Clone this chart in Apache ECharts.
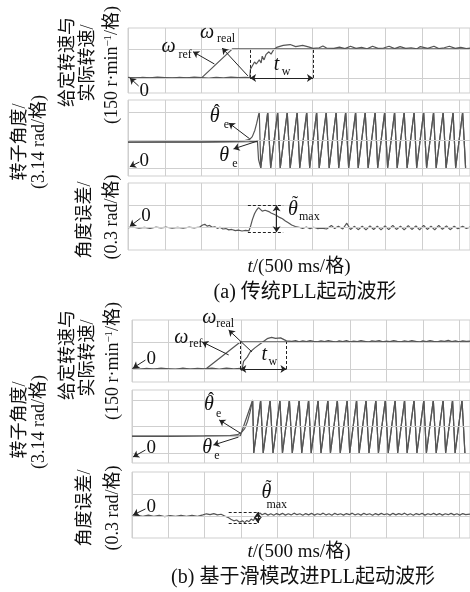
<!DOCTYPE html>
<html>
<head>
<meta charset="utf-8">
<script src="https://cdn.jsdelivr.net/npm/echarts@6/dist/echarts.min.js"></script>
<style>html,body{margin:0;background:#fff}#main{width:470px;height:592px}</style>
</head>
<body>
<div id="main"></div>
<script>
// x in scope divisions, y in divisions of each trace
// (a) traditional PLL
var spdRefA = [[0,0],[2.0,0],[2.84,1],[9.3,1]];
var spdRealA = [[0,0.02],[0.2,-0.01],[0.4,0.02],[0.6,0],[0.8,0.03],[1.0,0.01],[1.2,-0.01],[1.4,0.02],[1.6,0],[1.8,0.03],
  [2.0,0.01],[2.2,-0.01],[2.4,0.02],[2.6,0],[2.8,0.03],[3.0,0.01],[3.2,0.02],[3.31,0.01],[3.33,0.3],[3.36,0.34],[3.44,0.55],
  [3.49,0.48],[3.57,0.62],[3.62,0.52],[3.65,0.75],[3.70,0.62],[3.75,0.80],[3.83,0.90],[3.89,0.82],[3.96,0.97],[4.04,1.05],
  [4.22,1.12],[4.41,1.15],[4.56,1.08],[4.75,1.12],[4.93,1.06],[5.03,1.02],[5.2,1.04],[5.3,1.1],[5.4,1.03],[5.6,1.02],
  [5.75,1.06],[5.9,1.01],[6.05,1.09],[6.2,1.02],[6.35,1.05],[6.5,1.0],[6.65,1.09],[6.8,1.02],[6.95,1.03],[7.1,1.09],
  [7.25,1.01],[7.4,1.08],[7.55,1.02],[7.7,1.04],[7.85,1.0],[7.95,1.08],[8.15,1.02],[8.32,1.09],[8.45,1.01],[8.6,1.04],
  [8.74,1.09],[8.9,1.02],[9.05,1.05],[9.2,1.01],[9.3,1.03]];
var thetaHatPreA = [[0,0.92],[1.0,0.93],[2.0,0.93],[2.8,0.95],[3.15,0.97],[3.31,1.02],[3.38,1.12],[3.45,1.35],[3.50,1.6],[3.55,1.9],[3.57,2.0]];
var thetaPreA = [[0,0.92],[1.0,0.92],[2.0,0.92],[2.8,0.93],[3.3,0.94],[3.52,0.95],[3.55,0.3]];
var sawTroughsA = [3.61,3.88,4.14,4.41,4.67,4.94,5.20,5.47,5.73,6.00,6.26,6.53,6.79,7.06,7.32,7.59,7.85,8.12,8.38,8.65,8.91,9.18];
var sawPeaksA = [3.80,4.07,4.33,4.60,4.86,5.13,5.39,5.66,5.92,6.19,6.45,6.72,6.98,7.25,7.51,7.78,8.04,8.31,8.57,8.84,9.10];
var errA = [[0,0],[0.15,0.02],[0.3,-0.02],[0.45,0.01],[0.6,-0.03],[0.75,0.02],[0.9,-0.01],[1.05,0.02],[1.2,-0.02],[1.35,0.01],
  [1.5,-0.02],[1.65,0.02],[1.8,-0.01],[1.95,0.03],[2.03,0.12],[2.09,0.15],[2.15,0.07],[2.22,0.1],[2.29,0.02],[2.36,0.04],
  [2.43,-0.03],[2.5,0.02],[2.58,-0.06],[2.66,-0.04],[2.74,-0.1],[2.82,-0.08],[2.92,-0.13],[3.0,-0.11],[3.1,-0.15],[3.2,-0.12],
  [3.29,-0.14],[3.33,0.05],[3.38,0.35],[3.44,0.62],[3.50,0.8],[3.55,0.9],[3.60,0.82],[3.65,0.74],[3.69,0.7],[3.73,0.78],
  [3.78,0.8],[3.83,0.72],[3.89,0.66],[3.94,0.64],[4.0,0.58],[4.06,0.52],[4.12,0.46],[4.2,0.4],[4.28,0.3],[4.36,0.22],
  [4.45,0.12],[4.55,0.05],[4.65,0.02],[4.75,-0.04],[4.85,0.03],[4.95,-0.05],[5.05,0.02],[5.15,-0.04],[5.27,-0.02],[5.4,-0.06],
  [5.53,0.1],[5.62,-0.04],[5.72,0.06],[5.84,-0.06],[5.95,0.2],[6.05,-0.08],[6.16,0.06],[6.26,-0.09],[6.37,0.07],[6.47,-0.1],
  [6.58,0.08],[6.68,-0.08],[6.78,0.07],[6.88,-0.1],[6.99,0.08],[7.09,-0.09],[7.2,0.1],[7.3,-0.08],[7.41,0.07],[7.51,-0.1],
  [7.62,0.09],[7.72,-0.08],[7.83,0.08],[7.93,-0.1],[8.04,0.1],[8.14,-0.08],[8.24,0.07],[8.34,-0.1],[8.45,0.1],[8.55,-0.07],
  [8.66,0.08],[8.76,-0.09],[8.87,0.06],[8.97,-0.05],[9.1,0.06],[9.2,-0.04],[9.3,0.03]];

// (b) sliding-mode improved PLL
var spdRefB = [[0,0],[2.03,0],[2.98,1],[9.3,1]];
var spdRealB = [[0,0.02],[0.2,-0.01],[0.4,0.02],[0.6,0],[0.8,0.03],[1.0,0.01],[1.2,-0.01],[1.4,0.03],[1.6,0],[1.8,0.02],
  [2.0,0.01],[2.2,0.03],[2.4,0],[2.6,0.03],[2.8,0.01],[2.98,0.02],[3.02,-0.06],[3.07,0.28],[3.17,0.44],[3.25,0.63],
  [3.38,0.78],[3.56,0.96],[3.72,1.12],[3.84,1.17],[3.95,1.13],[4.09,1.15],[4.25,1.04],[4.4,1.02],[4.5,1.05],[4.6,1.0],
  [4.7,1.04],[4.8,1.01],[4.9,1.05],[5.0,1.02],[5.1,1.0],[5.2,1.04],[5.3,1.01],[5.4,1.05],[5.5,1.02],[5.6,0.99],[5.7,1.04],
  [5.8,1.01],[5.9,1.05],[6.0,1.0],[6.1,1.03],[6.2,1.01],[6.3,1.05],[6.4,1.02],[6.5,0.99],[6.6,1.04],[6.7,1.02],[6.8,1.05],
  [6.9,1.0],[7.0,1.03],[7.1,1.01],[7.2,1.05],[7.3,1.02],[7.4,1.0],[7.5,1.04],[7.6,1.01],[7.7,1.05],[7.8,1.02],[7.9,0.99],
  [8.0,1.04],[8.1,1.01],[8.2,1.05],[8.3,1.02],[8.4,1.0],[8.5,1.04],[8.6,1.02],[8.7,1.06],[8.8,1.01],[8.9,1.04],[9.0,1.0],
  [9.1,1.04],[9.2,1.02],[9.3,1.03]];
var thetaHatPreB = [[0,0.64],[1,0.64],[2,0.65],[2.7,0.66],[2.9,0.69],[3.0,0.76],[3.1,0.92],[3.18,1.2],[3.24,1.5],[3.28,1.75],[3.32,2.0]];
var thetaPreB = [[0,0.63],[1,0.63],[2,0.64],[2.98,0.65],[3.32,2.0]];
var sawTroughsB = [3.35,3.61,3.88,4.14,4.41,4.67,4.93,5.20,5.46,5.73,5.99,6.25,6.52,6.78,7.05,7.31,7.57,7.84,8.10,8.37,8.63,8.89,9.16];
var sawPeaksB = [3.54,3.80,4.07,4.33,4.60,4.86,5.12,5.39,5.65,5.92,6.18,6.44,6.71,6.97,7.24,7.50,7.76,8.03,8.29,8.56,8.82,9.08];
var errB = [[0,0],[0.15,0.03],[0.3,-0.02],[0.45,0.04],[0.6,-0.02],[0.75,0.03],[0.9,-0.03],[1.05,0.02],[1.2,-0.02],[1.35,0.03],
  [1.5,-0.01],[1.65,0.03],[1.8,-0.02],[1.95,0.05],[2.05,0.1],[2.15,0.06],[2.25,0.11],[2.35,0.05],[2.45,0.08],[2.55,0.0],
  [2.64,-0.06],[2.72,-0.15],[2.8,-0.22],[2.88,-0.18],[2.96,-0.28],[3.04,-0.22],[3.1,-0.3],[3.16,-0.2],[3.22,-0.26],[3.28,-0.14],
  [3.34,-0.2],[3.4,-0.05],[3.46,0.05],[3.52,0.14],[3.58,0.06],[3.66,0.12],[3.74,0.04],[3.82,0.1],[3.9,0.03],[3.98,0.11],
  [4.06,0.05],[4.14,0.12],[4.22,0.04],[4.3,0.1],[4.38,0.05],[4.46,0.13],[4.54,0.06],[4.62,0.1],[4.7,0.03],[4.78,0.11],
  [4.86,0.05],[4.94,0.12],[5.02,0.04],[5.1,0.1],[5.18,0.06],[5.26,0.13],[5.34,0.05],[5.42,0.1],[5.5,0.03],[5.58,0.12],
  [5.66,0.06],[5.74,0.1],[5.82,0.04],[5.9,0.11],[5.98,0.06],[6.06,0.13],[6.14,0.05],[6.22,0.1],[6.3,0.04],[6.38,0.12],
  [6.46,0.06],[6.54,0.1],[6.62,0.03],[6.7,0.11],[6.78,0.05],[6.86,0.12],[6.94,0.06],[7.02,0.1],[7.1,0.04],[7.18,0.12],
  [7.26,0.05],[7.34,0.11],[7.42,0.06],[7.5,0.13],[7.58,0.05],[7.66,0.1],[7.74,0.03],[7.82,0.11],[7.9,0.06],[7.98,0.12],
  [8.06,0.04],[8.14,0.1],[8.22,0.06],[8.3,0.12],[8.38,0.05],[8.46,0.11],[8.54,0.04],[8.62,0.1],[8.7,0.06],[8.78,0.12],
  [8.86,0.05],[8.94,0.1],[9.02,0.04],[9.1,0.11],[9.18,0.06],[9.3,0.09]];

var sawTop = 2.0, sawBottom = 0;

// tw / max-error marker values (divisions)
var twA = [3.32, 5.03], twB = [2.98, 4.25];
var maxErrA = {x: [3.26, 4.22], lo: -0.2, hi: 1.0, at: 4.04};
var maxErrB = {x: [2.66, 3.46], lo: -0.32, hi: 0.18, at: 3.46};

var serif = '"Liberation Serif","Noto Sans CJK SC",serif';
var gridColor = '#cfcfcf';
var traceColor = '#555';

// scope screens: pixel layout of the six sub-plots
var layout = [
  {left: 128, top: 28,  width: 357, height: 65, yMin: -0.52, yMax: 1.72, hl: [0, 1]},
  {left: 128, top: 100, width: 357, height: 76, yMin: -0.29, yMax: 2.43, hl: [0, 1, 2]},
  {left: 128, top: 183, width: 357, height: 67, yMin: -1,    yMax: 2,    hl: [0, 1]},
  {left: 132, top: 320, width: 352, height: 62, yMin: -0.48, yMax: 1.81, hl: [0, 1]},
  {left: 132, top: 390, width: 352, height: 73, yMin: -0.38, yMax: 2.38, hl: [0, 1, 2]},
  {left: 132, top: 472, width: 352, height: 66, yMin: -1,    yMax: 2,    hl: [0, 1]}
];

function saw(troughs, peaks) {
  var out = [];
  for (var i = 0; i < troughs.length; i++) {
    out.push([troughs[i], sawBottom]);
    if (i < peaks.length) out.push([peaks[i], sawTop]);
  }
  return out;
}

function arrow(p, q, both) {
  return [{coord: p, symbol: both ? 'arrow' : 'none'}, {coord: q, symbol: 'arrow'}];
}
function dashed(p, q) {
  return [{coord: p, symbol: 'none', lineStyle: {type: [3, 2], width: 1}}, {coord: q, symbol: 'none'}];
}

var marks = [
  [arrow([2.35,0.48],[1.77,0.90]), arrow([3.26,0.07],[2.56,1.03]), arrow([0.29,-0.28],[0.05,0]),
   dashed([twA[0],0],[twA[0],1]), dashed([twA[1],0],[twA[1],1]), arrow([twA[0],0],[twA[1],0], true)],
  [arrow([3.31,1.04],[2.74,1.61]), arrow([3.52,0.96],[2.87,0.68]), arrow([0.31,0.21],[0.05,0.04])],
  [dashed([maxErrA.x[0],maxErrA.hi],[maxErrA.x[1],maxErrA.hi]), dashed([maxErrA.x[0],maxErrA.lo],[maxErrA.x[1],maxErrA.lo]),
   arrow([maxErrA.at,maxErrA.lo],[maxErrA.at,maxErrA.hi], true), arrow([0.34,0.42],[0.05,0.06])],
  [arrow([2.66,0.52],[1.93,1.0]), arrow([3.30,0.63],[2.66,1.44]), arrow([0.37,0.33],[0.03,0.04]),
   dashed([twB[0],0],[twB[0],1]), dashed([twB[1],0],[twB[1],1]), arrow([twB[0],0],[twB[1],0], true)],
  [arrow([2.98,0.75],[2.40,1.25]), arrow([2.93,0.6],[2.24,0.3]), arrow([0.37,0.11],[0.03,-0.15])],
  [dashed([maxErrB.x[0],maxErrB.hi],[maxErrB.x[1],maxErrB.hi]), dashed([maxErrB.x[0],maxErrB.lo],[maxErrB.x[1],maxErrB.lo]),
   arrow([maxErrB.at,maxErrB.lo],[maxErrB.at,maxErrB.hi], true), arrow([0.37,0.32],[0.03,0.05])]
];

var traces = [
  [spdRefA, spdRealA],
  [thetaHatPreA.concat(saw(sawTroughsA, sawPeaksA)), thetaPreA.concat(saw(sawTroughsA, sawPeaksA))],
  [errA],
  [spdRefB, spdRealB],
  [thetaHatPreB.concat(saw(sawTroughsB, sawPeaksB)), thetaPreB.concat(saw(sawTroughsB, sawPeaksB))],
  [errB]
];

var chart = echarts.init(document.getElementById('main'));

var series = [];
layout.forEach(function (g, i) {
  series.push({
    type: 'line', xAxisIndex: i, yAxisIndex: i, data: [[0, 0]], showSymbol: false, silent: true, z: 1,
    lineStyle: {opacity: 0},
    markLine: {silent: true, animation: false, symbol: 'none', label: {show: false},
      lineStyle: {color: gridColor, width: 1, type: 'solid'},
      data: g.hl.map(function (v) { return {yAxis: v}; })}
  });
  traces[i].forEach(function (d) {
    series.push({type: 'line', xAxisIndex: i, yAxisIndex: i, data: d, showSymbol: false, z: 3,
      lineStyle: {color: traceColor, width: 1.2}});
  });
  series.push({
    type: 'line', xAxisIndex: i, yAxisIndex: i, data: [[0, 0]], showSymbol: false, silent: true, z: 5,
    lineStyle: {opacity: 0},
    markLine: {silent: true, animation: false, symbolSize: 6, label: {show: false},
      lineStyle: {color: '#222', width: 1, type: 'solid'}, data: marks[i]}
  });
});

chart.setOption({
  animation: false,
  grid: layout.map(function (g) {
    return {left: g.left, top: g.top, width: g.width, height: g.height, show: true,
      borderColor: gridColor, borderWidth: 1, backgroundColor: 'transparent'};
  }),
  xAxis: layout.map(function (g, i) {
    return {type: 'value', gridIndex: i, min: 0, max: 9.3, interval: 1,
      axisLine: {show: false}, axisTick: {show: false}, axisLabel: {show: false},
      splitLine: {show: true, lineStyle: {color: gridColor, width: 1}}};
  }),
  yAxis: layout.map(function (g, i) {
    return {type: 'value', gridIndex: i, min: g.yMin, max: g.yMax,
      axisLine: {show: false}, axisTick: {show: false}, axisLabel: {show: false}, splitLine: {show: false}};
  }),
  series: series
});

// ---- text ----
var graphic = [];
function txt(x, y, text, size, opts) {
  opts = opts || {};
  var st = {text: text, fontFamily: serif, fontSize: size, fontStyle: opts.italic ? 'italic' : 'normal',
    fill: '#111', align: opts.align || 'left', verticalAlign: 'middle',
    textAlign: opts.align || 'left', textVerticalAlign: 'middle'};
  if (opts.rich) st.rich = opts.rich;
  graphic.push({type: 'text', x: x, y: y, rotation: opts.rot || 0, silent: true, z: 10, style: st});
}

// symbol labels: [grid, x, y, main, sub, dx, dy, accent]
var symLabels = [
  [0, 0.91, 1.07, 'ω', 'ref', 17, 8], [0, 1.96, 1.55, 'ω', 'real', 17, 6], [0, 3.96, 0.45, 't', 'w', 8, 7],
  [1, 2.22, 1.82, 'θ', 'e', 14, 8, 'ˆ'], [1, 2.48, 0.43, 'θ', 'e', 13, 8],
  [2, 4.35, 0.82, 'θ', 'max', 11, 7, '˜'],
  [3, 1.16, 1.15, 'ω', 'ref', 15, 6], [3, 1.93, 1.89, 'ω', 'real', 14, 6], [3, 3.56, 0.52, 't', 'w', 7, 7],
  [4, 1.98, 1.81, 'θ', 'e', 12, 9, 'ˆ'], [4, 1.93, 0.19, 'θ', 'e', 12, 8],
  [5, 3.56, 1.05, 'θ', 'max', 5, 12, '˜']
];
var zeroLabels = [[0, 0.31, -0.45], [1, 0.31, 0.25], [2, 0.36, 0.5], [3, 0.40, 0.37], [4, 0.40, 0.19], [5, 0.40, 0.41]];

symLabels.forEach(function (s) {
  var p = chart.convertToPixel({gridIndex: s[0]}, [s[1], s[2]]);
  txt(p[0], p[1], s[3], 20, {italic: true});
  txt(p[0] + s[5], p[1] + s[6], s[4], 12);
  if (s[7]) txt(p[0] + 4, p[1] - 5, s[7], 18);
});
zeroLabels.forEach(function (s) {
  var p = chart.convertToPixel({gridIndex: s[0]}, [s[1], s[2]]);
  txt(p[0], p[1], '0', 19);
});

// axis titles (rotated)
var sup = {s: {fontFamily: serif, fontSize: 11, verticalAlign: 'top'}};
var yTitles = [
  ['给定转速与', 68, 62], ['实际转速/', 88, 63], ['(150 r·min{s|−1}/格)', 112, 65],
  ['转子角度/', 20, 142], ['(3.14 rad/格)', 39, 142], ['角度误差/', 85, 220], ['(0.3 rad/格)', 112, 217],
  ['给定转速与', 68, 355], ['实际转速/', 88, 358], ['(150 r·min{s|−1}/格)', 113, 361],
  ['转子角度/', 20, 420], ['(3.14 rad/格)', 39, 422], ['角度误差/', 85, 508], ['(0.3 rad/格)', 113, 508]
];
yTitles.forEach(function (t) {
  txt(t[1], t[2], t[0], 18, {align: 'center', rot: Math.PI / 2, rich: sup});
});

var it = {i: {fontFamily: serif, fontSize: 19, fontStyle: 'italic'}};
txt(299, 267, '{i|t}/(500 ms/格)', 19, {align: 'center', rich: it});
txt(299, 552, '{i|t}/(500 ms/格)', 19, {align: 'center', rich: it});
txt(305, 293, '(a) 传统PLL起动波形', 20, {align: 'center'});
txt(303, 578, '(b) 基于滑模改进PLL起动波形', 20, {align: 'center'});

chart.setOption({graphic: graphic});
</script>
</body>
</html>
